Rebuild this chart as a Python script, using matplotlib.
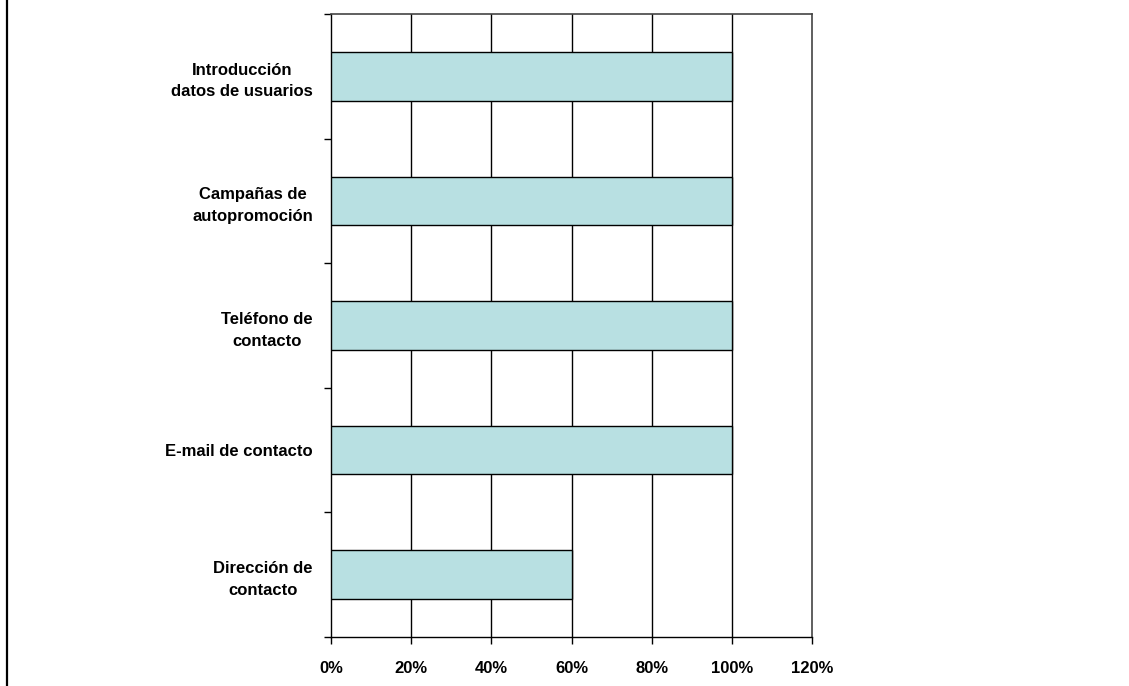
import matplotlib
matplotlib.use("Agg")
import matplotlib.pyplot as plt
from matplotlib.lines import Line2D
from matplotlib.ticker import FuncFormatter

categories = ["Dirección de\ncontacto", "E-mail de contacto", "Teléfono de\ncontacto",
              "Campañas de\nautopromoción", "Introducción\ndatos de usuarios"]
values = [60, 100, 100, 100, 100]
xticks = [0, 20, 40, 60, 80, 100, 120]

plt.rcParams['font.family'] = ['Liberation Sans', 'DejaVu Sans']

fig = plt.figure(figsize=(11.29, 6.86), dpi=100)
ax = fig.add_axes([331/1129, 1-637/686, 481/1129, 623/686])

n = len(categories)
ypos = list(range(n))
ax.barh(ypos, values, height=0.39, color="#B8E0E2", edgecolor="black", linewidth=1, zorder=3)

ax.set_xlim(0, 120)
ax.set_ylim(-0.5, n-0.5)
ax.set_xticks(xticks)
ax.xaxis.set_major_formatter(FuncFormatter(lambda v, p: f"{int(v)}%"))
for x in xticks[1:-1]:
    ax.axvline(x, color="black", linewidth=1, zorder=1)

ax.set_yticks([i-0.5 for i in range(n+1)])
ax.set_yticklabels([])
ax.set_yticks(ypos, minor=True)
ax.set_yticklabels(categories, minor=True, fontsize=12, fontweight='bold',
                   ha='right', multialignment='center', linespacing=1.55)
ax.tick_params(axis='y', which='minor', length=0, pad=13)
ax.tick_params(axis='y', which='major', length=5, width=1, direction='out')
ax.tick_params(axis='x', length=5, width=1, direction='out', pad=12.5)
for lab in ax.get_xticklabels():
    lab.set_fontweight('bold')
    lab.set_fontsize(12)

for s in ['left', 'bottom']:
    ax.spines[s].set_color('black')
    ax.spines[s].set_linewidth(1)
for s in ['top', 'right']:
    ax.spines[s].set_color('#444444')
    ax.spines[s].set_linewidth(1.2)

fig.add_artist(Line2D([6.5/1129, 6.5/1129], [0, 1], color='black', linewidth=1.6, transform=fig.transFigure))

fig.savefig("out.png", dpi=100)
